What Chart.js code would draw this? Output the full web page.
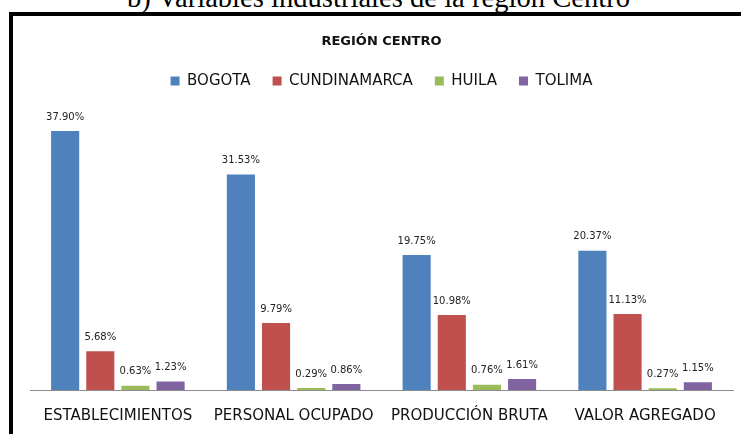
<!DOCTYPE html>
<html>
<head>
<meta charset="utf-8">
<script src="https://cdn.jsdelivr.net/npm/chart.js@4.4.0/dist/chart.umd.min.js"></script>
<style>
    html, body { margin: 0; padding: 0; background: #fff; overflow: hidden; }
    body { width: 741px; height: 434px; position: relative; }
    #caption {
        position: absolute; left: 8px; top: -18px; width: 741px; text-align: center;
        font-family: "Liberation Serif", "DejaVu Serif", serif; font-size: 28.6px; color: #000;
        white-space: nowrap;
    }
    #frame {
        position: absolute; left: 9px; top: 12px; width: 740px; height: 430px;
        border-left: 4px solid #000; border-top: 4px solid #000;
    }
    #wrap { position: absolute; left: 13px; top: 16px; width: 728px; height: 418px; }
</style>
</head>
<body>
<div id="caption">b) Variables industriales de la región Centro</div>
<div id="frame"></div>
<div id="wrap"><canvas id="regionChart"></canvas></div>
<script>
const categories = ['ESTABLECIMIENTOS', 'PERSONAL OCUPADO', 'PRODUCCIÓN BRUTA', 'VALOR AGREGADO'];
const bogota = [37.90, 31.53, 19.75, 20.37];
const cundinamarca = [5.68, 9.79, 10.98, 11.13];
const huila = [0.63, 0.29, 0.76, 0.27];
const tolima = [1.23, 0.86, 1.61, 1.15];

const fontFamily = '"DejaVu Sans", "Noto Sans", sans-serif';

// draw the percentage above each bar
const valueLabels = {
    id: 'valueLabels',
    afterDatasetsDraw(chart) {
        const ctx = chart.ctx;
        ctx.save();
        ctx.font = '10px ' + fontFamily;
        ctx.fillStyle = '#222';
        ctx.textAlign = 'center';
        ctx.textBaseline = 'bottom';
        chart.data.datasets.forEach(function(ds, i) {
            chart.getDatasetMeta(i).data.forEach(function(bar, j) {
                ctx.fillText(ds.data[j].toFixed(2) + '%', bar.x, bar.y - 9);
            });
        });
        ctx.restore();
    }
};

// extra room under the legend
const legendGap = {
    id: 'legendGap',
    beforeInit(chart) {
        const fit = chart.legend.fit;
        chart.legend.fit = function() {
            fit.bind(chart.legend)();
            this.height += 18;
        };
    }
};

const ctx = document.getElementById('regionChart').getContext('2d');
new Chart(ctx, {
    type: 'bar',
    data: {
        labels: categories,
        datasets: [
            { label: 'BOGOTA', data: bogota, backgroundColor: '#4F81BD' },
            { label: 'CUNDINAMARCA', data: cundinamarca, backgroundColor: '#C0504D' },
            { label: 'HUILA', data: huila, backgroundColor: '#9BBB59' },
            { label: 'TOLIMA', data: tolima, backgroundColor: '#8064A2' }
        ]
    },
    options: {
        responsive: true,
        maintainAspectRatio: false,
        animation: false,
        datasets: { bar: { categoryPercentage: 0.8, barPercentage: 0.8 } },
        layout: { padding: { left: 17, right: 8, top: 8, bottom: 0 } },
        scales: {
            y: { display: false, min: 0, max: 40 },
            x: {
                grid: { display: false },
                border: { color: '#8c8c8c', width: 1 },
                ticks: { color: '#111', font: { family: fontFamily, size: 15 }, padding: 9 }
            }
        },
        plugins: {
            title: {
                display: true,
                text: 'REGIÓN CENTRO',
                color: '#111',
                font: { family: fontFamily, size: 13, weight: 'bold' },
                padding: { top: 10, bottom: 2 }
            },
            legend: {
                labels: {
                    boxWidth: 9, boxHeight: 9, color: '#111',
                    font: { family: fontFamily, size: 15 },
                    padding: 22
                }
            },
            tooltip: { enabled: false }
        }
    },
    plugins: [valueLabels, legendGap]
});
</script>
</body>
</html>
